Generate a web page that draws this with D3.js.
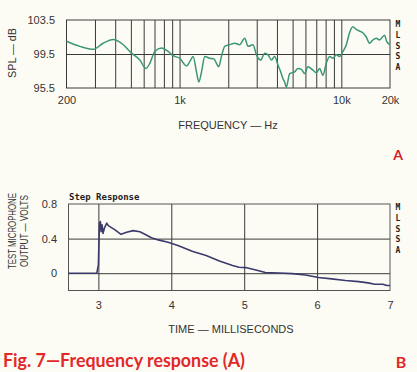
<!DOCTYPE html>
<html>
<head>
<meta charset="utf-8">
<script src="https://cdn.jsdelivr.net/npm/d3@7"></script>
<style>
  body { margin: 0; background: #fcfcf4; }
  svg { display: block; }
  .axis path { display: none; }
  .grid line { stroke: #3a3a3a; stroke-width: 1; }
  .lbl { font-family: "Liberation Sans", Arial, sans-serif; fill: #333; font-size: 11px; }
  .mono { font-family: "DejaVu Sans Mono", monospace; font-weight: bold; fill: #222; }
</style>
</head>
<body>
<div id="chart"></div>
<script>
// ---- frequency response (A) ----
const freqHz = [200, 242, 293, 337, 389, 438, 505, 568, 619, 655, 703, 774, 850, 912, 1002,
  1104, 1156, 1213, 1272, 1315, 1367, 1432, 1538, 1635, 1691, 1746, 1815, 1902, 2042, 2193,
  2355, 2528, 2650, 2846, 2987, 3177, 3360, 3524, 3698, 3873, 4058, 4218, 4356, 4465, 4571,
  4795, 5146, 5393, 5662, 5929, 6220, 6675, 7000, 7345, 7692, 8073, 8472, 8874, 9311, 9756,
  10233, 10740, 11247, 11780, 12360, 12970, 13580, 14260, 14940, 15660, 16440, 17220, 18490,
  19100, 20000];
const splDb = [101.0, 100.4, 100.05, 100.76, 101.2, 100.76, 99.6, 98.8, 97.8, 98.4, 99.8, 100.2, 99.8, 99.3, 99.0,
  98.1, 98.6, 99.2, 97.4, 96.2, 97.4, 99.2, 99.0, 98.9, 98.4, 98.0, 99.2, 100.4, 100.6, 100.76,
  100.6, 101.35, 100.4, 100.6, 99.4, 98.8, 99.6, 99.4, 98.8, 99.2, 98.2, 97.4, 96.6, 96.2, 95.6,
  97.2, 97.4, 97.8, 97.7, 97.2, 98.0, 97.6, 97.3, 97.8, 97.0, 98.4, 99.2, 99.0, 99.4, 99.2,
  99.8, 100.6, 102.0, 102.7, 102.4, 102.2, 102.0, 101.5, 100.76, 101.15, 101.35, 101.15, 101.7,
  100.95, 100.6];
const freqGrid = [300, 400, 500, 600, 700, 800, 900, 1000, 2000, 3000, 4000, 5000, 6000, 7000, 8000, 9000, 10000];
const freqTicks = [200, 1000, 10000, 20000];
const freqTickLabels = ["200", "1k", "10k", "20k"];
const splTicks = [95.5, 99.5, 103.5];

// ---- step response (B) ----
const timeMs = [2.59, 2.978, 3.0, 3.014, 3.027, 3.037, 3.05, 3.064, 3.082, 3.115, 3.136, 3.228, 3.31,
  3.387, 3.477, 3.569, 3.637, 3.728, 3.82, 3.956, 4.09, 4.296, 4.478, 4.66, 4.84, 4.93, 5.02,
  5.16, 5.29, 5.48, 5.66, 5.84, 6.02, 6.2, 6.39, 6.57, 6.70, 6.79, 6.9, 6.96, 7.0];
const stepVolts = [0, 0, 0.096, 0.578, 0.597, 0.48, 0.56, 0.46, 0.52, 0.578, 0.55, 0.50, 0.45,
  0.474, 0.492, 0.48, 0.45, 0.41, 0.385, 0.358, 0.32, 0.25, 0.204, 0.142, 0.088, 0.069, 0.065,
  0.038, 0.007, 0.003, -0.005, -0.02, -0.05, -0.066, -0.085, -0.097, -0.112, -0.127, -0.127, -0.143, -0.143];
const timeTicks = [3, 4, 5, 6, 7];
const voltTicks = [0, 0.4, 0.8];
const voltGrid = [0, 0.4];

const W = 417, H = 372;
const svg = d3.select("#chart").append("svg").attr("width", W).attr("height", H);
svg.append("rect").attr("width", W).attr("height", H).attr("fill", "#fcfcf4");

// ---------- chart A ----------
let x1 = d3.scaleLog().domain([200, 20000]).range([66.5, 390]);
let y1 = d3.scaleLinear().domain([95.5, 103.5]).range([88, 20]);

svg.append("g").attr("class", "axis grid")
  .attr("transform", "translate(0,88)")
  .call(d3.axisBottom(x1).tickValues(freqGrid).tickSize(-68).tickFormat(""));
svg.append("g").attr("class", "axis grid")
  .attr("transform", "translate(66.5,0)")
  .call(d3.axisLeft(y1).tickValues([99.5]).tickSize(-323.5).tickFormat(""));
svg.append("rect").attr("x", 66.5).attr("y", 20).attr("width", 323.5).attr("height", 68)
  .attr("fill", "none").attr("stroke", "#3a3a3a");

let ax1 = svg.append("g").attr("class", "axis")
  .attr("transform", "translate(0,93)")
  .call(d3.axisBottom(x1).tickValues(freqTicks).tickSize(0)
    .tickFormat((d, i) => freqTickLabels[i]));
ax1.selectAll("text").attr("class", "lbl").attr("font-size", 12).attr("dy", "0.71em");

let ay1 = svg.append("g").attr("class", "axis")
  .attr("transform", "translate(58,0)")
  .call(d3.axisLeft(y1).tickValues(splTicks).tickSize(0).tickFormat(d3.format(".1f")));
ay1.selectAll("text").attr("class", "lbl").attr("font-size", 12);

svg.append("path")
  .datum(freqHz.map((f, i) => [f, splDb[i]]))
  .attr("fill", "none").attr("stroke", "#3b9576").attr("stroke-width", 1.5)
  .attr("stroke-linejoin", "round")
  .attr("d", d3.line().x(d => x1(d[0])).y(d => y1(d[1])).curve(d3.curveMonotoneX));

svg.append("text").attr("class", "lbl")
  .attr("transform", "translate(16,53) rotate(-90)")
  .attr("text-anchor", "middle").attr("textLength", 50).attr("lengthAdjust", "spacingAndGlyphs")
  .text("SPL — dB");
svg.append("text").attr("class", "lbl")
  .attr("x", 228).attr("y", 129).attr("text-anchor", "middle").text("FREQUENCY — Hz");

// ---------- chart B ----------
let x2 = d3.scaleLinear().domain([2.59, 7]).range([68.5, 390]);
let y2 = d3.scaleLinear().domain([-0.2, 0.8]).range([290.5, 204]);

svg.append("g").attr("class", "axis grid")
  .attr("transform", "translate(0,290.5)")
  .call(d3.axisBottom(x2).tickValues([3, 4, 5, 6]).tickSize(-86.5).tickFormat(""));
svg.append("g").attr("class", "axis grid")
  .attr("transform", "translate(68.5,0)")
  .call(d3.axisLeft(y2).tickValues(voltGrid).tickSize(-321.5).tickFormat(""));
svg.append("rect").attr("x", 68.5).attr("y", 204).attr("width", 321.5).attr("height", 86.5)
  .attr("fill", "none").attr("stroke", "#555");

let ax2 = svg.append("g").attr("class", "axis")
  .attr("transform", "translate(0,298)")
  .call(d3.axisBottom(x2).tickValues(timeTicks).tickSize(0).tickFormat(d3.format("d")));
ax2.selectAll("text").attr("class", "lbl").attr("font-size", 12).attr("dy", "0.71em");

let ay2 = svg.append("g").attr("class", "axis")
  .attr("transform", "translate(60,0)")
  .call(d3.axisLeft(y2).tickValues(voltTicks).tickSize(0).tickFormat(d => d === 0 ? "0" : d3.format(".1f")(d)));
ay2.selectAll("text").attr("class", "lbl").attr("font-size", 12);

svg.append("path")
  .datum(timeMs.map((t, i) => [t, stepVolts[i]]))
  .attr("fill", "none").attr("stroke", "#3c3a6c").attr("stroke-width", 1.6)
  .attr("stroke-linejoin", "round")
  .attr("d", d3.line().x(d => x2(d[0])).y(d => y2(d[1])));

svg.append("text").attr("class", "mono").attr("font-size", 9)
  .attr("x", 69).attr("y", 200).text("Step Response");

svg.append("text").attr("class", "lbl")
  .attr("transform", "translate(16,231) rotate(-90)")
  .attr("text-anchor", "middle").attr("textLength", 76).attr("lengthAdjust", "spacingAndGlyphs")
  .text("TEST MICROPHONE");
svg.append("text").attr("class", "lbl")
  .attr("transform", "translate(28,231) rotate(-90)")
  .attr("text-anchor", "middle").attr("textLength", 72).attr("lengthAdjust", "spacingAndGlyphs")
  .text("OUTPUT — VOLTS");
svg.append("text").attr("class", "lbl")
  .attr("x", 231).attr("y", 333).attr("text-anchor", "middle").text("TIME — MILLISECONDS");

// MLSSA stamps
[[24], [207]].forEach(([y0]) => {
  "MLSSA".split("").forEach((c, i) => {
    svg.append("text").attr("class", "mono").attr("font-size", 8)
      .attr("x", 398).attr("y", y0 + 3 + i * 10.8).attr("text-anchor", "middle").text(c);
  });
});

// panel letters + caption
svg.append("text").attr("x", 398).attr("y", 160).attr("text-anchor", "middle")
  .attr("font-family", "Lato, sans-serif").attr("font-weight", "bold").attr("font-size", 14)
  .attr("fill", "#d41a2e").text("A");
svg.append("text").attr("x", 401).attr("y", 368).attr("text-anchor", "middle")
  .attr("font-family", "Lato, sans-serif").attr("font-weight", "bold").attr("font-size", 16)
  .attr("fill", "#e02828").text("B");
svg.append("text").attr("x", 3).attr("y", 367)
  .attr("font-family", "Lato, sans-serif").attr("font-weight", "bold").attr("font-size", 18)
  .attr("textLength", 242).attr("lengthAdjust", "spacingAndGlyphs")
  .attr("fill", "#e3282a").text("Fig. 7—Frequency response (A)");
</script>
</body>
</html>
